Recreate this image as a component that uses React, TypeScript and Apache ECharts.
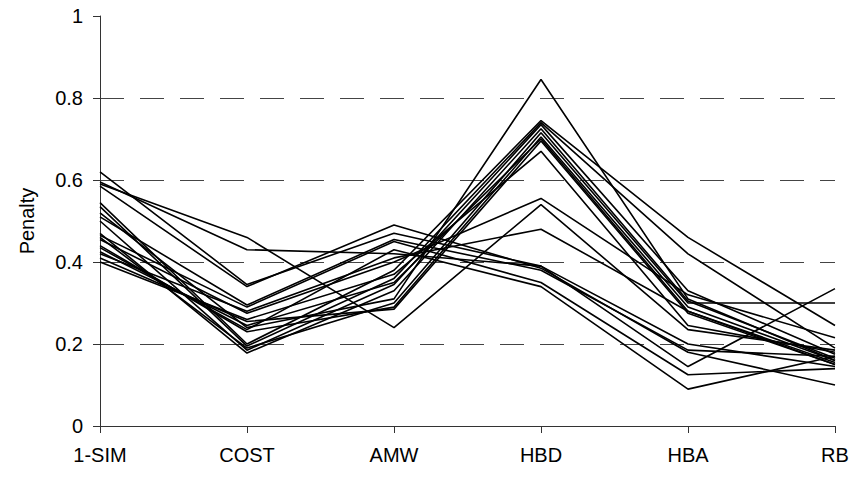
import React, { useEffect, useRef } from "react";
import * as echarts from "echarts";

const categories = ["1-SIM", "COST", "AMW", "HBD", "HBA", "RB"];
const yTicks = [0, 0.2, 0.4, 0.6, 0.8, 1];

// Each profile: values at 1-SIM, COST, AMW, HBD, HBA, RB
const profile01 = [0.52, 0.24, 0.31, 0.845, 0.31, 0.16];
const profile02 = [0.545, 0.2, 0.38, 0.745, 0.46, 0.245];
const profile03 = [0.535, 0.195, 0.36, 0.74, 0.42, 0.19];
const profile04 = [0.5, 0.185, 0.345, 0.735, 0.33, 0.175];
const profile05 = [0.47, 0.178, 0.33, 0.725, 0.305, 0.165];
const profile06 = [0.46, 0.19, 0.3, 0.715, 0.3, 0.3];
const profile07 = [0.44, 0.23, 0.29, 0.705, 0.29, 0.16];
const profile08 = [0.425, 0.245, 0.35, 0.7, 0.28, 0.155];
const profile09 = [0.41, 0.255, 0.285, 0.695, 0.275, 0.15];
const profile10 = [0.4, 0.26, 0.37, 0.67, 0.245, 0.18];
const profile11 = [0.59, 0.46, 0.24, 0.54, 0.235, 0.185];
const profile12 = [0.455, 0.275, 0.4, 0.555, 0.32, 0.215];
const profile13 = [0.42, 0.28, 0.41, 0.48, 0.28, 0.15];
const profile14 = [0.62, 0.345, 0.47, 0.39, 0.2, 0.145];
const profile15 = [0.595, 0.43, 0.42, 0.39, 0.145, 0.335];
const profile16 = [0.585, 0.34, 0.49, 0.385, 0.18, 0.1];
const profile17 = [0.51, 0.295, 0.455, 0.38, 0.185, 0.17];
const profile18 = [0.465, 0.29, 0.45, 0.35, 0.125, 0.14];
const profile19 = [0.435, 0.235, 0.43, 0.34, 0.09, 0.17];

const profiles = [
  profile01, profile02, profile03, profile04, profile05, profile06, profile07,
  profile08, profile09, profile10, profile11, profile12, profile13, profile14,
  profile15, profile16, profile17, profile18, profile19,
];

const FONT = "'Liberation Sans', Arial, sans-serif";

export default function App() {
  const ref = useRef<HTMLDivElement>(null);
  useEffect(() => {
    if (!ref.current) return;
    const chart = echarts.init(ref.current, undefined, { renderer: "svg" });
    chart.setOption({
      animation: false,
      backgroundColor: "#ffffff",
      grid: { left: 100, right: 20, top: 16, bottom: 56, containLabel: false },
      xAxis: {
        type: "category",
        data: categories,
        boundaryGap: false,
        axisLine: { show: true, lineStyle: { color: "#333", width: 1 } },
        axisTick: { show: true, length: 7, lineStyle: { color: "#333" } },
        axisLabel: { color: "#000", fontSize: 20, fontFamily: FONT, margin: 19 },
        splitLine: { show: false },
      },
      yAxis: {
        type: "value",
        min: yTicks[0],
        max: yTicks[yTicks.length - 1],
        interval: 0.2,
        name: "Penalty",
        nameLocation: "middle",
        nameGap: 63,
        nameRotate: 90,
        nameTextStyle: { color: "#000", fontSize: 20, fontFamily: FONT },
        axisLine: { show: true, lineStyle: { color: "#333", width: 1 } },
        axisTick: { show: true, length: 7, inside: false, lineStyle: { color: "#333" } },
        axisLabel: {
          color: "#000",
          fontSize: 20,
          fontFamily: FONT,
          margin: 17,
          formatter: (v: number) => String(Math.round(v * 10) / 10),
        },
        splitLine: {
          show: true,
          showMinLine: false,
          showMaxLine: false,
          lineStyle: { color: "#444", width: 1, type: [24, 16] },
        },
      },
      series: profiles.map((p, i) => ({
        name: "p" + (i + 1),
        type: "line",
        data: p,
        symbol: "none",
        showSymbol: false,
        lineStyle: { color: "#000", width: 1.6 },
        silent: true,
      })),
    });
    return () => chart.dispose();
  }, []);
  return (
    <div
      ref={ref}
      style={{ position: "fixed", left: 0, top: 0, width: 855, height: 482, background: "#fff" }}
    />
  );
}
